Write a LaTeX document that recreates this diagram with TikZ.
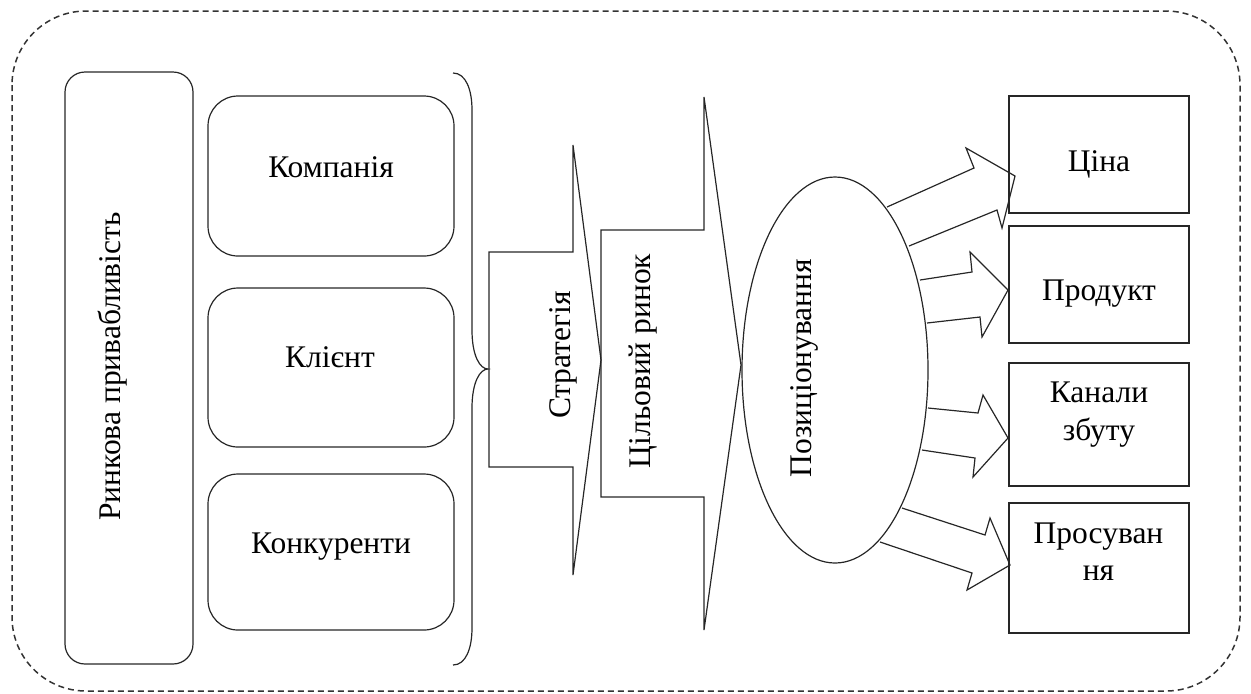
\documentclass[tikz,border=0pt]{standalone}
\usepackage{fontspec}
\setmainfont{Liberation Serif}
\usetikzlibrary{shapes.geometric}
\begin{document}
\begin{tikzpicture}[x=0.5pt,y=-0.5pt,
  line/.style={draw=black!85, line width=0.6pt},
  rbox/.style={line, rounded corners=15pt, inner sep=0pt, outer sep=0pt},
  sbox/.style={line, inner sep=0pt, outer sep=0pt, minimum width=90pt},
  txt/.style={font=\fontsize{15.75pt}{18pt}\selectfont, inner sep=0pt, anchor=base},
  vtxt/.style={txt, rotate=90},
  blockarrow/.style={line, line join=miter}
]
\useasboundingbox (0,0) rectangle (1251,693);
% outer dashed frame
\draw[draw=black!80, line width=0.75pt, dash pattern=on 3pt off 2pt, rounded corners=37pt] (12,11) rectangle (1240,691);

% left column
\node (ra) [rbox, rounded corners=10pt, minimum width=64pt, minimum height=296pt] at (129,368) {};
\node (comp) [rbox, minimum width=123pt, minimum height=80pt] at (331,176) {};
\node (client) [rbox, minimum width=123pt, minimum height=79.5pt] at (331,367.5) {};
\node (compet) [rbox, minimum width=123pt, minimum height=78pt] at (331,552) {};

\node (tra) [vtxt] at (120,366.5) {Ринкова привабливість};
\node (tcomp) [txt] at (331,177) {Компанія};
\node (tclient) [txt] at (330,367) {Клієнт};
\node (tcompet) [txt] at (331,553) {Конкуренти};

% brace
\coordinate (bt) at (453,73);
\coordinate (bm) at (488,369);
\coordinate (bb) at (453,665);
\draw[line] (bt) .. controls (466,73) and (472,90) .. (472,110) -- (472,330)
  .. controls (472,356) and (480,369) .. (bm)
  .. controls (480,369) and (472,382) .. (472,408) -- (472,628)
  .. controls (472,648) and (466,665) .. (bb);

% strategy block arrow
\draw[blockarrow] (489,252) -- (573,252) -- (573,145) -- (601,360) -- (573,575) -- (573,467) -- (489,467) -- cycle;
\node (tstrat) [vtxt] at (570,355) {Стратегія};

% target market block arrow
\draw[blockarrow] (601,230) -- (704,230) -- (704,97) -- (741,365) -- (704,630) -- (704,497) -- (601,497) -- cycle;
\node (ttarget) [vtxt] at (650,361) {Цільовий ринок};

% positioning ellipse
\node (pos) [ellipse, line, inner sep=0pt, outer sep=0pt, minimum width=93pt, minimum height=193pt] at (835,370) {};
\node (tpos) [vtxt] at (811,368) {Позиціонування};

% right boxes
\node (price) [sbox, minimum height=58.5pt] at (1099,154.5) {};
\node (prod) [sbox, minimum height=58.5pt] at (1099,284.5) {};
\node (chan) [sbox, minimum height=61.5pt] at (1099,424.5) {};
\node (promo) [sbox, minimum height=65pt] at (1099,568) {};

\node (tprice) [txt] at (1099,171) {Ціна};
\node (tprod) [txt] at (1099,300) {Продукт};
\node (tchan1) [txt] at (1099,402) {Канали};
\node (tchan2) [txt] at (1099,440) {збуту};
\node (tpromo1) [txt] at (1098.5,543) {Просуван};
\node (tpromo2) [txt] at (1098.5,580) {ня};

% block arrows from ellipse to boxes
\draw[blockarrow] (887,207) -- (974,168) -- (966,148) -- (1015,176) -- (1002,228) -- (997,210) -- (909,246);
\draw[blockarrow] (920,280) -- (972,272) -- (970,252) -- (1008,290) -- (982,337) -- (980,317) -- (927,323);
\draw[blockarrow] (928,408) -- (978,413) -- (983,395) -- (1008,438) -- (973,477) -- (975,458) -- (922,450);
\draw[blockarrow] (902,508) -- (985,535) -- (990,518) -- (1010,565) -- (967,590) -- (972,573) -- (880,542);
\end{tikzpicture}
\end{document}
